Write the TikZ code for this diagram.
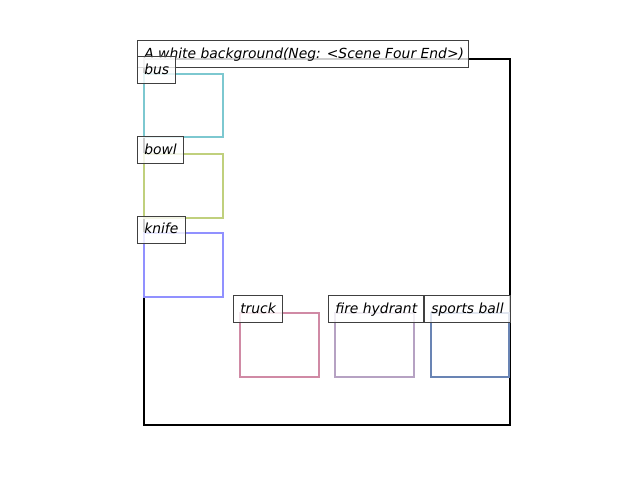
\documentclass[tikz,border=0pt]{standalone}
\usepackage{fontspec}
\setmainfont{DejaVu Sans}
\begin{document}
\begin{tikzpicture}[x=0.72pt,y=-0.72pt,
  frame/.style={draw=black,line width=1.5pt},
  objbox/.style={line width=1.5pt},
  lblbox/.style={draw=black!75,fill=white,fill opacity=0.8,line width=0.72pt},
  lbltext/.style={anchor=base west,inner sep=0pt,font=\fontsize{10pt}{12pt}\selectfont\itshape}]
\definecolor{cbus}{RGB}{125,200,208}
\definecolor{cbowl}{RGB}{192,208,125}
\definecolor{cknife}{RGB}{145,145,255}
\definecolor{ctruck}{RGB}{208,138,165}
\definecolor{chyd}{RGB}{182,162,195}
\definecolor{cball}{RGB}{105,132,180}
\useasboundingbox (0,0) rectangle (640,480);
% scene frame
\draw[frame] (144,59) rectangle (510,425);
% object boxes
\draw[objbox,draw=cbus] (144,74) rectangle (223,137);
\draw[objbox,draw=cbowl] (144,154) rectangle (223,218);
\draw[objbox,draw=cknife] (144,233) rectangle (223,297);
\draw[objbox,draw=ctruck] (240,313) rectangle (319,377);
\draw[objbox,draw=chyd] (335,313) rectangle (414,377);
\draw[objbox,draw=cball] (431,313) rectangle (509,377);
% labels
\draw[lblbox] (137,40.5) rectangle (468,67.5);
\node[lbltext] (ttitle) at (144,58) {A white background(Neg: <Scene Four End>)};
\draw[lblbox] (137,56.5) rectangle (175,83.5);
\node[lbltext] (tbus) at (144,74) {bus};
\draw[lblbox] (137,136.5) rectangle (183,163.5);
\node[lbltext] (tbowl) at (144,154) {bowl};
\draw[lblbox] (137,216) rectangle (185,243);
\node[lbltext] (tknife) at (144,233.5) {knife};
\draw[lblbox] (233,295.5) rectangle (282,322.5);
\node[lbltext] (ttruck) at (240,313) {truck};
\draw[lblbox] (328,295.5) rectangle (423,322.5);
\node[lbltext] (thyd) at (335,313) {fire hydrant};
\draw[lblbox] (424,295.5) rectangle (510,322.5);
\node[lbltext] (tball) at (431,313) {sports ball};
\end{tikzpicture}
\end{document}
